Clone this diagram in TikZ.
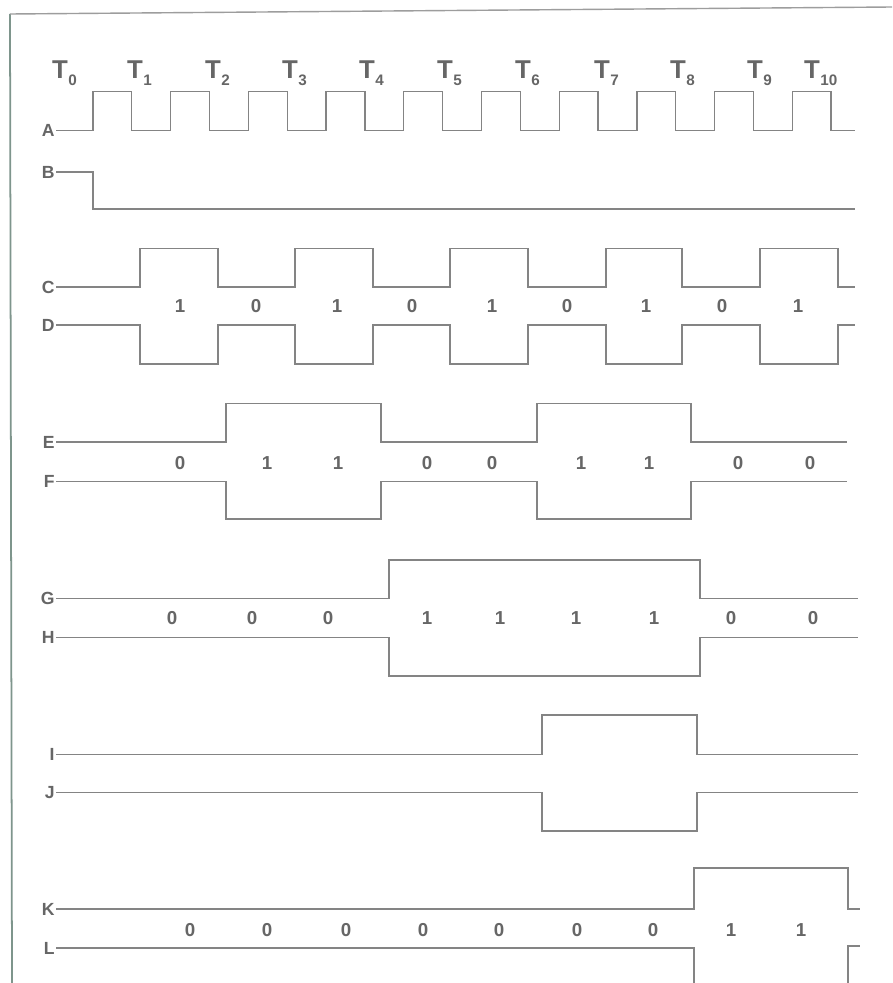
\documentclass[tikz,border=0pt]{standalone}
\usepackage{fontspec}
\setmainfont{Liberation Sans}
\definecolor{ink}{HTML}{666666}
\definecolor{trace}{HTML}{848484}
\definecolor{rim}{HTML}{7E958C}
\tikzset{
  wave/.style={draw=trace, line width=1.1pt, line join=miter},
  sig/.style={anchor=east, inner sep=1pt, text=ink, font=\fontsize{15}{15}\selectfont\bfseries},
  bit/.style={text=ink, inner sep=0pt, font=\fontsize{16}{16}\selectfont\bfseries},
  tlabel/.style={anchor=base west, inner sep=0pt, text=ink, font=\fontsize{22}{22}\selectfont\bfseries}
}
\newcommand{\tsub}[1]{T\kern0.3pt\raisebox{-6.5pt}{\fontsize{13}{13}\selectfont #1}}
\begin{document}
\begin{tikzpicture}[x=0.03cm, y=-0.03cm]
\useasboundingbox (0,0) rectangle (892,983);
\fill[white] (0,0) rectangle (892,983);

\draw[rim, line width=1.5pt] (12,983) -- (10,14);
\draw[trace!80, line width=1.2pt] (10,14) -- (892,7);

\foreach \i/\x in {0/52, 1/127, 2/205, 3/282, 4/359, 5/437,
                   6/515, 7/594, 8/670, 9/747, 10/804}
  \node[tlabel] (T\i) at (\x,78) {\tsub{\i}};

\node[sig] (A) at (56,130.5) {A};
\draw[wave] (A.east) \foreach \k in {0,...,9}{
  -- ({93+77.7*\k},130.5) -- ({93+77.7*\k},91.5)
  -- ({131.8+77.7*\k},91.5) -- ({131.8+77.7*\k},130.5)} -- (855,130.5);

\node[sig] (B) at (56,172) {B};
\draw[wave] (B.east) -- (93,172) |- (855,209);

\node[sig] (C) at (56,287) {C};
\draw[wave] (C.east) -- (140,287) |- (218,248.5) |- (295,287) |- (373,248.5)
  |- (450,287) |- (528,248.5) |- (606,287) |- (682,248.5) |- (760,287)
  |- (838,248.5) |- (855,287);
\node[sig] (D) at (56,325) {D};
\draw[wave] (D.east) -- (140,325) |- (218,364) |- (295,325) |- (373,364)
  |- (450,325) |- (528,364) |- (606,325) |- (682,364) |- (760,325)
  |- (838,364) |- (855,325);
\foreach \x/\b in {180/1, 256/0, 337/1, 412/0, 492/1, 567/0, 646/1, 722/0, 798/1}
  \node[bit] at (\x,306) {\b};

\node[sig] (E) at (56,442) {E};
\draw[wave] (E.east) -- (226,442) |- (381,403.5) |- (537,442) |- (691,403.5) |- (847,442);
\node[sig] (F) at (56,481.5) {F};
\draw[wave] (F.east) -- (226,481.5) |- (381,519) |- (537,481.5) |- (691,519) |- (847,481.5);
\foreach \x/\b in {180/0, 267/1, 338/1, 427/0, 492/0, 581/1, 649/1, 738/0, 810/0}
  \node[bit] at (\x,463) {\b};

\node[sig] (G) at (56,598.5) {G};
\draw[wave] (G.east) -- (389,598.5) |- (700,560) |- (858,598.5);
\node[sig] (H) at (56,637.5) {H};
\draw[wave] (H.east) -- (389,637.5) |- (700,676) |- (858,637.5);
\foreach \x/\b in {172/0, 252/0, 328/0, 427/1, 500/1, 576/1, 654/1, 731/0, 813/0}
  \node[bit] at (\x,618) {\b};

\node[sig] (I) at (56,754.5) {I};
\draw[wave] (I.east) -- (542,754.5) |- (697,715) |- (858,754.5);
\node[sig] (J) at (56,792.5) {J};
\draw[wave] (J.east) -- (542,792.5) |- (697,831) |- (858,792.5);

\node[sig] (K) at (56,909) {K};
\draw[wave] (K.east) -- (694,909) |- (848,868) |- (860,909);
\node[sig] (L) at (56,948) {L};
\draw[wave] (L.east) -- (694,948) |- (848,995) |- (860,946);
\foreach \x/\b in {190/0, 267/0, 346/0, 423/0, 499/0, 577/0, 653/0, 731/1, 801/1}
  \node[bit] at (\x,930) {\b};
\end{tikzpicture}
\end{document}
